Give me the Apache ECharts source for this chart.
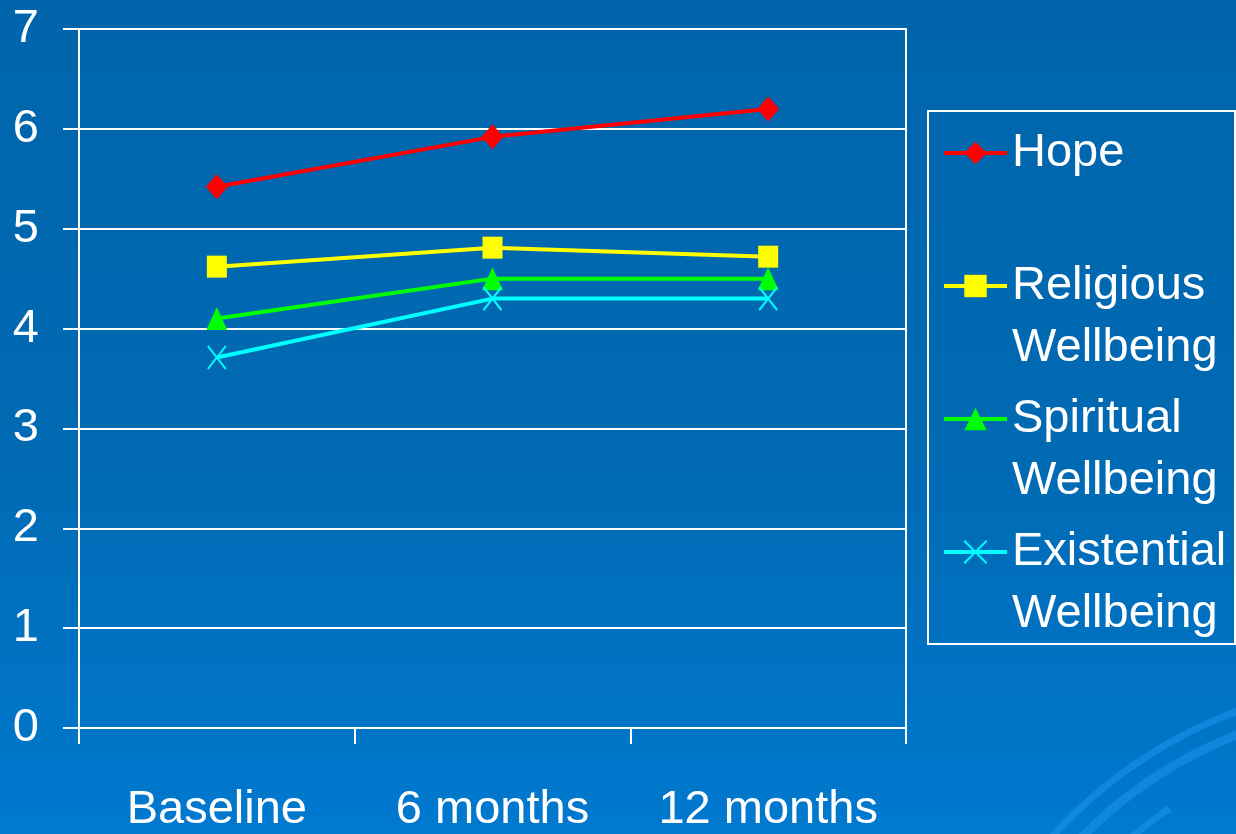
<!DOCTYPE html>
<html>
<head>
<meta charset="utf-8">
<script src="https://cdn.jsdelivr.net/npm/echarts@6/dist/echarts.min.js"></script>
<style>
  html, body { margin: 0; padding: 0; background: #0068b0; }
  #chart { width: 1236px; height: 834px; }
</style>
</head>
<body>
<div id="chart"></div>
<script>
// Time points and mean scores per measure
const categories = ['Baseline', '6 months', '12 months'];
const hope = [5.42, 5.92, 6.2];
const religiousWellbeing = [4.62, 4.81, 4.72];
const spiritualWellbeing = [4.1, 4.5, 4.5];
const existentialWellbeing = [3.71, 4.3, 4.3];
const yTicks = [0, 1, 2, 3, 4, 5, 6, 7];

const FONT = '"Liberation Sans", Arial, sans-serif';
const WHITE = '#ffffff';
const crossPath = 'path://M0,0L17,23M17,0L0,23';

// Decorative swirl arcs in the lower right corner
const swirl = [
  { r: 468, a0: 214, a1: 266, w: 7 },
  { r: 446, a0: 218, a1: 272, w: 9 },
  { r: 412, a0: 226, a1: 236, w: 7 },
  { r: 412, a0: 248, a1: 282, w: 8 },
  { r: 380, a0: 220, a1: 232, w: 8 },
  { r: 350, a0: 222, a1: 290, w: 9 }
];
const deg = Math.PI / 180;

const chart = echarts.init(document.getElementById('chart'), null, { renderer: 'canvas' });

const lineSeries = (name, data, color, symbol, size, extraItem) => ({
  name: name,
  type: 'line',
  data: data,
  symbol: symbol,
  symbolSize: size,
  lineStyle: { color: color, width: 4 },
  itemStyle: Object.assign({ color: color }, extraItem || {}),
  emphasis: { disabled: true },
  z: 3
});

// Legend entries: the name's first line sits level with its icon,
// a blank line above balances the wrapped second line below.
const legendLabel = name => {
  const parts = name.split(' ');
  return '\n' + parts[0] + '\n' + (parts.slice(1).join(' ') || ' ');
};

chart.setOption({
  animation: false,
  backgroundColor: {
    type: 'linear', x: 0, y: 0, x2: 0, y2: 1,
    colorStops: [
      { offset: 0, color: '#0065ab' },
      { offset: 0.55, color: '#006ab3' },
      { offset: 1, color: '#0079cf' }
    ]
  },
  textStyle: { fontFamily: FONT },
  graphic: swirl.map(s => ({
    type: 'arc',
    silent: true,
    z: -10,
    shape: { cx: 1400, cy: 1150, r: s.r, startAngle: s.a0 * deg, endAngle: s.a1 * deg },
    style: { stroke: 'rgba(30,150,240,0.55)', lineWidth: s.w, fill: 'none' }
  })).concat([{
    type: 'rect',
    silent: true,
    z: 1,
    shape: { x: 928, y: 111, width: 307, height: 533 },
    style: { fill: 'none', stroke: WHITE, lineWidth: 2 }
  }]),
  grid: {
    left: 79, right: 330, top: 29, bottom: 105,
    show: true, borderColor: WHITE, borderWidth: 2, backgroundColor: 'transparent'
  },
  legend: {
    orient: 'vertical',
    left: 942,
    top: 60,
    padding: 0,
    itemWidth: 63,
    itemHeight: 28,
    itemGap: -53,
    selectedMode: false,
    lineStyle: { width: 4 },
    textStyle: { color: WHITE, fontSize: 47, lineHeight: 62, fontFamily: FONT },
    formatter: legendLabel,
    data: ['Hope', 'Religious Wellbeing', 'Spiritual Wellbeing', 'Existential Wellbeing']
  },
  xAxis: {
    type: 'category',
    data: categories,
    boundaryGap: true,
    axisLine: { show: true, lineStyle: { color: WHITE, width: 2 } },
    axisTick: { show: true, length: 16, lineStyle: { color: WHITE, width: 2 } },
    axisLabel: { color: WHITE, fontSize: 47, margin: 59, interval: 0, fontFamily: FONT },
    splitLine: { show: false }
  },
  yAxis: {
    type: 'value',
    min: yTicks[0],
    max: yTicks[yTicks.length - 1],
    interval: 1,
    axisLine: { show: true, lineStyle: { color: WHITE, width: 2 } },
    axisTick: { show: true, length: 16, lineStyle: { color: WHITE, width: 2 } },
    axisLabel: { color: WHITE, fontSize: 47, margin: 40, fontFamily: FONT },
    splitLine: { show: true, lineStyle: { color: WHITE, width: 2 } }
  },
  series: [
    lineSeries('Hope', hope, '#ff0000', 'diamond', [22, 25]),
    lineSeries('Religious Wellbeing', religiousWellbeing, '#ffff00', 'rect', [20, 22]),
    lineSeries('Spiritual Wellbeing', spiritualWellbeing, '#00ff00', 'triangle', [21, 23]),
    lineSeries('Existential Wellbeing', existentialWellbeing, '#00ffff', crossPath, [18, 23],
      { borderColor: '#00ffff', borderWidth: 2 })
  ]
});
</script>
</body>
</html>
